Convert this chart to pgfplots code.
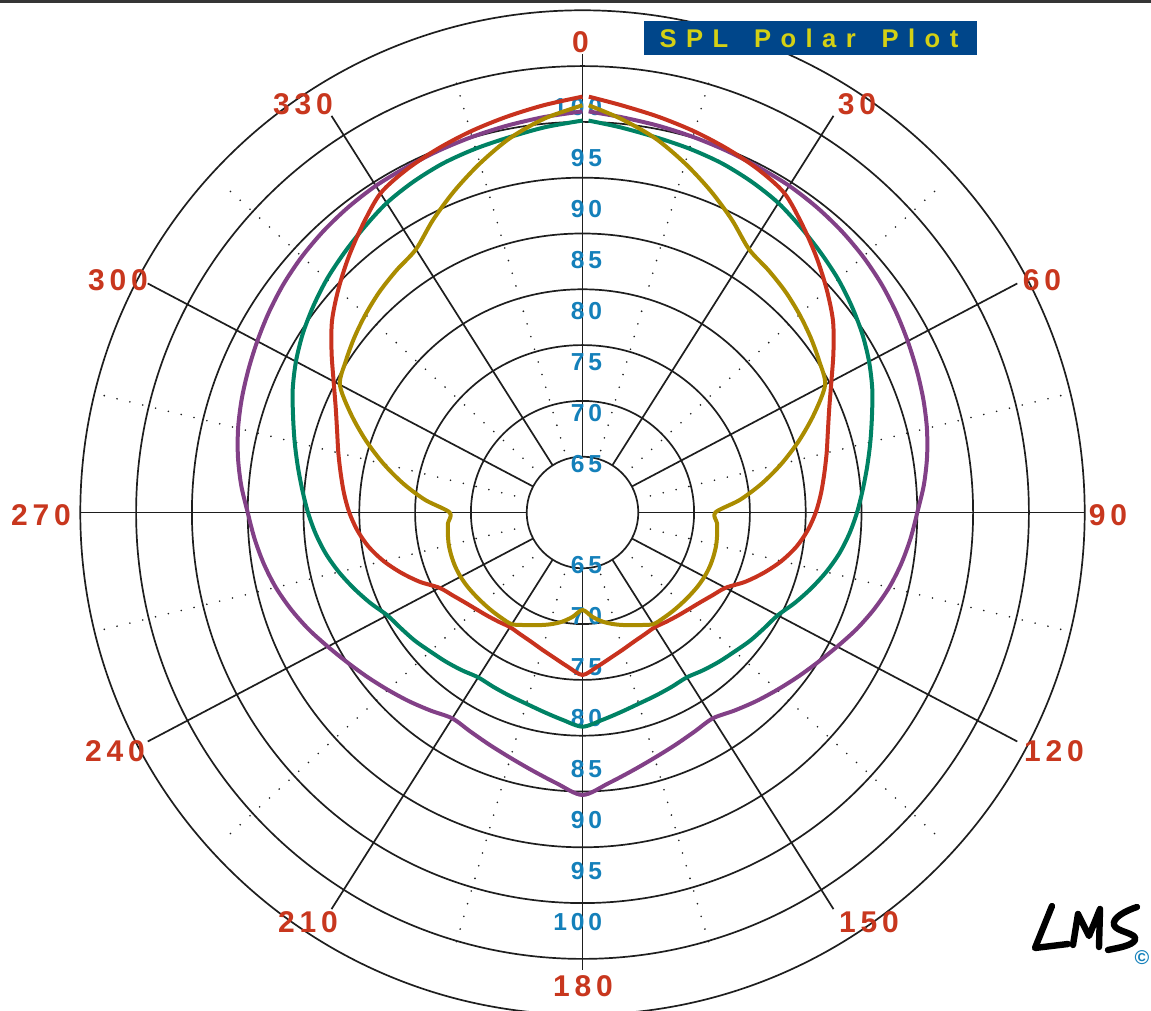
\documentclass[border=0pt]{standalone}
\usepackage{pgfplots}
\pgfplotsset{compat=1.18}
\usepackage{pgfplotstable}
\usepackage{fontspec}
\setmainfont{Liberation Sans}
\definecolor{gridc}{RGB}{30,30,30}
\definecolor{cred}{RGB}{200,50,30}
\definecolor{cgreen}{RGB}{0,130,100}
\definecolor{cpurple}{RGB}{130,64,135}
\definecolor{cgold}{RGB}{170,140,0}
\definecolor{clab}{RGB}{200,55,30}
\definecolor{cblue}{RGB}{20,128,186}
\definecolor{ctbg}{RGB}{0,70,138}
\definecolor{ctfg}{RGB}{212,208,20}
\newcommand\ts{\hspace{4.7pt}}
\newcommand\ta{\kern2.4pt}
\newcommand\tb{\kern1.9pt}
\newcommand\anglab{\bfseries\fontsize{15}{15}\selectfont}
\newcommand\dblab{\bfseries\fontsize{12.3}{12.3}\selectfont}

% angle (deg, clockwise from top) and SPL (dB) of the four curves
\pgfplotstableread{
a red green purple gold
0.8 100.85 98.50 99.40 100.00
5 100.15 98.00 99.00 98.85
10 99.45 97.45 98.60 97.35
15 98.75 97.00 98.20 95.50
20 98.00 96.50 97.80 93.60
25 97.20 95.85 97.40 91.70
30 96.20 95.10 97.05 89.85
35 94.40 94.15 96.60 89.05
40 92.65 93.25 96.10 88.30
45 90.95 92.40 95.55 87.50
50 89.30 91.50 94.95 86.70
55 87.45 90.60 94.30 85.90
60 85.75 89.65 93.65 85.10
65 84.40 88.65 93.05 82.90
70 83.40 87.60 92.50 80.65
75 82.65 86.70 91.95 78.45
80 82.00 85.90 91.35 76.30
85 81.45 85.20 90.70 74.15
90 80.90 84.60 90.00 71.90
95 80.25 84.00 89.50 72.10
100 79.45 83.35 89.00 72.25
105 78.45 82.60 88.45 72.40
110 77.30 81.80 87.80 72.50
115 76.10 81.00 87.10 72.58
120 74.80 80.20 86.35 72.62
125 74.20 79.85 85.70 72.62
130 73.75 79.60 85.15 72.60
135 73.45 79.30 84.65 72.60
140 73.25 79.10 84.20 72.62
145 73.10 78.90 83.75 72.65
150 73.00 78.70 83.35 72.67
155 73.20 78.90 83.75 72.20
160 73.50 79.15 84.30 71.78
165 73.95 79.45 84.95 71.38
170 74.50 79.90 85.75 70.92
175 75.20 80.45 86.70 70.30
180 75.96 81.04 87.75 69.58
185 75.20 80.45 86.70 70.30
190 74.50 79.90 85.75 70.92
195 73.95 79.45 84.95 71.38
200 73.50 79.15 84.30 71.78
205 73.20 78.90 83.75 72.20
210 73.00 78.70 83.35 72.67
215 73.10 78.90 83.75 72.65
220 73.25 79.10 84.20 72.62
225 73.45 79.30 84.65 72.60
230 73.75 79.60 85.15 72.60
235 74.20 79.85 85.70 72.62
240 74.80 80.20 86.35 72.62
245 76.10 81.00 87.10 72.58
250 77.30 81.80 87.80 72.50
255 78.45 82.60 88.45 72.40
260 79.45 83.35 89.00 72.25
265 80.25 84.00 89.50 72.10
270 80.90 84.60 90.00 71.90
275 81.45 85.20 90.70 74.15
280 82.00 85.90 91.35 76.30
285 82.65 86.70 91.95 78.45
290 83.40 87.60 92.50 80.65
295 84.40 88.65 93.05 82.90
300 85.75 89.65 93.65 85.10
305 87.45 90.60 94.30 85.90
310 89.30 91.50 94.95 86.70
315 90.95 92.40 95.55 87.50
320 92.65 93.25 96.10 88.30
325 94.40 94.15 96.60 89.05
330 96.20 95.10 97.05 89.85
335 97.20 95.85 97.40 91.70
340 98.00 96.50 97.80 93.60
345 98.75 97.00 98.20 95.50
350 99.45 97.45 98.60 97.35
355 100.15 98.00 99.00 98.85
360 100.85 98.50 99.40 100.00
}\spl

\tikzset{refpx/.style={x=0.5pt,y=-0.5pt,shift={(0pt,505.5pt)}}}

\begin{document}
\begin{tikzpicture}
% ---------- grid (reference pixel frame) ----------
\begin{scope}[refpx]
\foreach \k in {1,...,9}
  \draw[gridc, line width=0.85pt] (582.5,512.5) circle[radius=\k*27.9pt];
\foreach \t in {0,30,...,330}{
  \pgfmathsetmacro\ex{502*sin(\t)}
  \pgfmathsetmacro\ey{458*cos(\t)}
  \pgfmathsetmacro\nn{veclen(\ex,\ey)}
  \draw[gridc, line width=0.85pt] ({582.5+(\ex/\nn)*55.8},{512.5-(\ey/\nn)*55.8}) -- ({582.5+\ex},{512.5-\ey});
}
\foreach \t in {15,45,...,345}{
  \draw[gridc, line width=0.9pt, line cap=round, dash pattern=on 0pt off 6.6pt]
    ({582.5+70.3*sin(\t)},{512.5-64.1*cos(\t)}) -- ({582.5+500*sin(\t)},{512.5-456*cos(\t)});
}
\foreach \L/\T in {65/6\tb5, 70/7\tb0, 75/7\tb5, 80/8\tb0, 85/8\tb5, 90/9\tb0, 95/9\tb5, 100/1\tb0\tb0}{
  \node[text=cblue, anchor=east, inner sep=0pt] at (602.5,{512.5-(\L-60)*10.18+2}) {\dblab \T};
  \node[text=cblue, anchor=east, inner sep=0pt] at (602.5,{512.5+(\L-60)*10.18+2}) {\dblab \T};
}
\end{scope}

% ---------- data ----------
\begin{axis}[at={(0pt,0pt)}, anchor=south west,
  x=5.58pt, y=5.09pt,
  xmin=-52.195, xmax=50.941, ymin=-48.969, ymax=50.344,
  enlargelimits=false, hide axis, clip=true]
\addplot[cgreen, line width=2pt, line join=round, smooth, tension=0.5] table[
  x expr={(\thisrow{green}-60)*sin(\thisrow{a})},
  y expr={(\thisrow{green}-60)*cos(\thisrow{a})}] {\spl};
\addplot[cpurple, line width=2pt, line join=round, smooth, tension=0.5] table[
  x expr={(\thisrow{purple}-60)*sin(\thisrow{a})},
  y expr={(\thisrow{purple}-60)*cos(\thisrow{a})}] {\spl};
\addplot[cred, line width=2pt, line join=round, smooth, tension=0.5] table[
  x expr={(\thisrow{red}-60)*sin(\thisrow{a})},
  y expr={(\thisrow{red}-60)*cos(\thisrow{a})}] {\spl};
\addplot[cgold, line width=2pt, line join=round, smooth, tension=0.5] table[
  x expr={(\thisrow{gold}-60)*sin(\thisrow{a})},
  y expr={(\thisrow{gold}-60)*cos(\thisrow{a})}] {\spl};
\end{axis}

% ---------- labels, title, logo ----------
\begin{scope}[refpx]
\foreach \lab/\px/\py in {0/580.5/42.5, 3\ta0/857/104, 6\ta0/1042/280, 9\ta0/1108/515,
  1\ta2\ta0/1054/751, 1\ta5\ta0/869/922, 1\ta8\ta0/583/986, 2\ta1\ta0/308/922, 2\ta4\ta0/115/751,
  2\ta7\ta0/41/515, 3\ta0\ta0/118/280, 3\ta3\ta0/303/104}
  \node[text=clab, inner sep=0pt] at (\px,\py) {\anglab\lab};
\fill[ctbg] (644,21) rectangle (977,55);
\node[text=ctfg, inner sep=0pt] at (809,38)
  {\bfseries\fontsize{12.8}{12.8}\selectfont S\ts P\ts L\ts\ \ts P\ts o\ts l\ts a\ts r\ts\ \ts P\ts l\ts o\ts t};
\fill[gridc!90] (0,0) rectangle (1151,3.3);
\begin{scope}[line width=3.2pt, line cap=round, line join=round, black]
\draw (1052,906) -- (1035,948) -- (1068,944);
\draw (1073,945) -- (1078,914) -- (1089,936) -- (1100,909) -- (1099,947);
\draw (1137,907) .. controls (1125,911) and (1112,918) .. (1114,925)
      .. controls (1116,932) and (1138,933) .. (1135,940)
      .. controls (1132,946) and (1117,948) .. (1108,950);
\end{scope}
\node[text=cblue, inner sep=0pt] at (1142,958) {\bfseries\fontsize{10}{10}\selectfont\textcopyright};
\end{scope}
\pgfresetboundingbox
\path[use as bounding box] (0pt,0pt) rectangle (575.5pt,505.5pt);
\end{tikzpicture}
\end{document}
